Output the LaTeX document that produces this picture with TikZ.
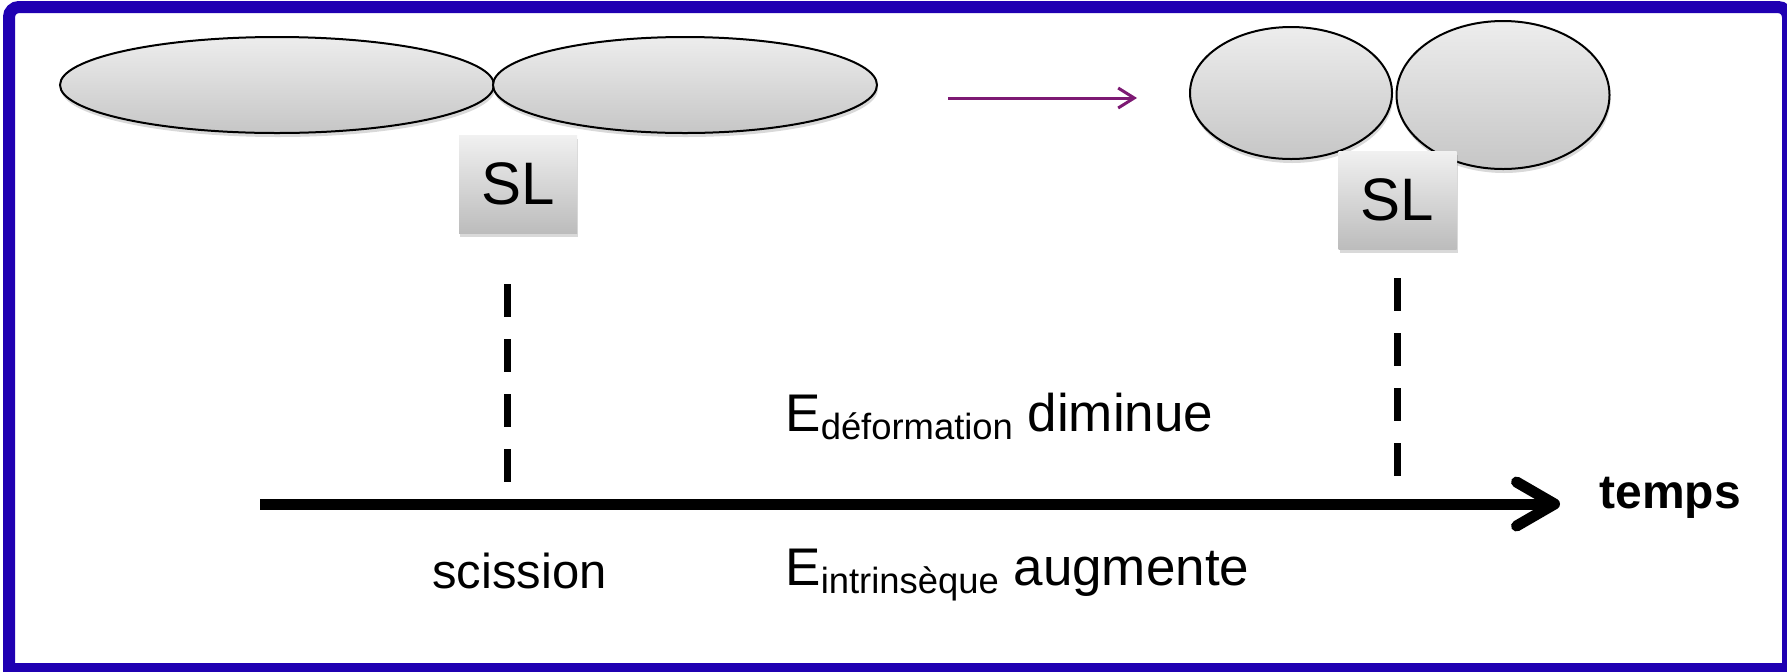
\documentclass[tikz,border=0pt]{standalone}
\usepackage{fontspec}
\setmainfont{Liberation Sans}
\usepackage{tikz}
\usetikzlibrary{shapes.geometric, arrows.meta, positioning, calc, shadows}
\definecolor{framblue}{RGB}{31,0,178}
\definecolor{arrpurple}{RGB}{125,25,115}
\definecolor{shadetop}{RGB}{237,237,237}
\definecolor{shadebot}{RGB}{198,198,198}
\newcommand{\Esub}[1]{E\raisebox{-4pt}{\fontsize{18.2pt}{21pt}\selectfont #1}}
\tikzset{
  lobe/.style={
    ellipse, draw=black, line width=1pt, inner sep=0pt,
    top color=shadetop, bottom color=shadebot,
    drop shadow={shadow xshift=0.5pt, shadow yshift=-2pt, opacity=0.3}
  },
  slbox/.style={
    rectangle, inner sep=0pt, minimum width=59pt, minimum height=49pt,
    top color=shadetop!80!white, bottom color=shadebot!95!black,
    font=\fontsize{30pt}{34pt}\selectfont,
    drop shadow={shadow xshift=0.5pt, shadow yshift=-2pt, opacity=0.3}
  },
  lbl/.style={inner sep=0pt, anchor=base west, font=\fontsize{26.5pt}{30pt}\selectfont},
  guide/.style={line width=3.5pt, dash pattern=on 16.5pt off 11pt},
  timeline/.style={line width=5.5pt, -{Straight Barb[round, length=19pt, width=22pt]}},
  evolve/.style={arrpurple, line width=1.5pt, -{Straight Barb[length=8pt, width=10pt]}}
}
\begin{document}
\begin{tikzpicture}[x=0.5pt, y=-0.5pt]
  \useasboundingbox (0,0) rectangle (1787,671);
  \draw[framblue, line width=6pt] (9,669) [rounded corners=5pt] -- (9,7) -- (1788,7)
    [sharp corners] -- (1788,669) -- cycle;

  % noyau allonge a la scission
  \node[lobe, minimum width=217pt, minimum height=48pt] (lobeA) at (277,85) {};
  \node[lobe, minimum width=192pt, minimum height=48pt] (lobeB) at (685,85) {};
  \node[slbox] (slA) at (518,184) {SL};

  % fragments relaxes
  \node[lobe, minimum width=101pt, minimum height=66pt] (fragA) at (1291,93) {};
  \node[lobe, minimum width=106.5pt, minimum height=74pt] (fragB) at (1503,95) {};
  \node[slbox] (slB) at (1397.5,200) {SL};

  \coordinate (evA) at (948,98);
  \coordinate (evB) at (1137,98);
  \draw[evolve] (evA) -- (evB);

  % axe du temps
  \coordinate (t0) at (260,504);
  \coordinate (t1) at (1560,504);
  \draw[timeline] (t0) -- (t1);
  \node[lbl, font=\bfseries\fontsize{24pt}{28pt}\selectfont] (temps) at (1599,508) {temps};

  \coordinate (dA0) at (507,284);
  \coordinate (dA1) at (507,484);
  \coordinate (dB0) at (1397,278);
  \coordinate (dB1) at (1397,478);
  \foreach \from/\to in {dA0/dA1,dB0/dB1}
    \draw[guide] (\from) -- (\to);

  \node[lbl] (edef) at (785,431) {\Esub{déformation} diminue};
  \node[lbl] (eint) at (785,585) {\Esub{intrinsèque} augmente};
  \node[lbl, font=\fontsize{24.5pt}{28pt}\selectfont] (sciss) at (432,588) {scission};
\end{tikzpicture}
\end{document}
